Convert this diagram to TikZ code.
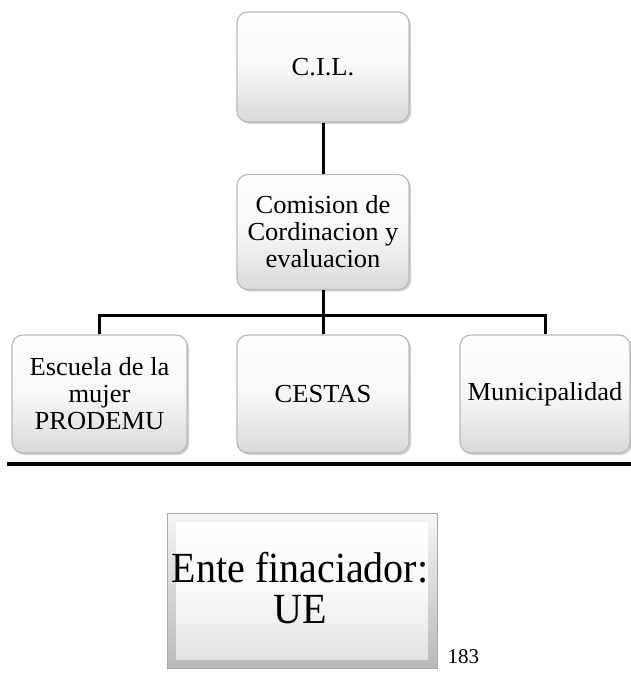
\documentclass[tikz,border=0pt]{standalone}
\usepackage{fontspec}
\setmainfont{Liberation Serif}
\newfontfamily\boxfont[FakeStretch=1.02]{Liberation Serif}
\newfontfamily\entefont[FakeStretch=0.93]{Liberation Serif}
\usetikzlibrary{shadows}
\tikzset{
  rbox/.style={draw=gray!55, line width=1.2pt, rounded corners=11pt,
    top color=white, bottom color=gray!30, middle color=gray!6,
    minimum width=#1, minimum height=118pt, inner sep=2pt,
    align=center, font=\boxfont\fontsize{26}{27}\selectfont,
    drop shadow={opacity=0.35, shadow xshift=2pt, shadow yshift=-2pt}},
  conn/.style={line width=3pt, black},
  entetext/.style={anchor=base, inner sep=0pt, font=\entefont\fontsize{43}{43}\selectfont},
}
\begin{document}
\begin{tikzpicture}[x=1pt, y=-1pt]
\path[fill=white] (0,0) rectangle (631,680);
\useasboundingbox (0,0) rectangle (631,680);

\node[rbox=172pt, minimum height=110pt] (cil) at (323,67) {C.I.L.};
\node[rbox=172pt, minimum height=115pt] (com) at (323,232) {Comision de\\Cordinacion y\\evaluacion};
\node[rbox=175pt, minimum height=118pt] (esc) at (99.5,394) {Escuela de la\\mujer\\PRODEMU};
\node[rbox=172pt, minimum height=118pt] (ces) at (323,394) {CESTAS};
\node[rbox=170pt, minimum height=118pt] (mun) at (545,394) {Municipalidad};

\draw[conn] (cil) -- (com);
\coordinate (bar) at (323,315);
\draw[conn] (com.south) -- (bar);
\draw[conn] (bar) -| (esc.north);
\draw[conn] (bar) -| (mun.north);
\draw[conn] (bar) -- (ces.north);

\coordinate (l1) at (7,464);
\coordinate (l2) at (631,464);
\draw[line width=4.5pt] (l1) -- (l2);

\node[draw=gray!70, line width=1pt, top color=gray!8, bottom color=gray!55,
  minimum width=270pt, minimum height=155pt, inner sep=0pt] (ente) at (302,590.5) {};
\node[top color=white, bottom color=gray!22, middle color=gray!5, minimum width=252pt, minimum height=137pt, inner sep=0pt] (enteIn) at (ente.center) {};
\node[entetext] (ente1) at (300,582) {Ente finaciador:};
\node[entetext] (ente2) at (300,623) {UE};
\node[font=\fontsize{21}{24}\selectfont, anchor=base west] (pg) at (444,663) {183};
\end{tikzpicture}
\end{document}
